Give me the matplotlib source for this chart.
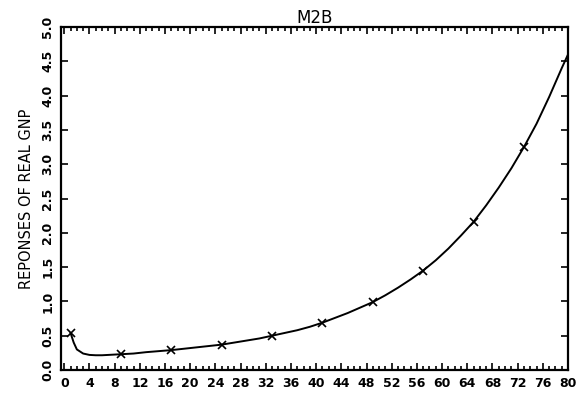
import matplotlib
matplotlib.use('Agg')
import matplotlib.pyplot as plt
from matplotlib.ticker import MultipleLocator

# Curve of the responses.
periodos = [1, 1.5, 2, 3, 4, 5, 6, 7, 9, 11, 13, 15, 17, 19, 21, 23, 25, 27,
            29, 31, 33, 35, 37, 39, 41, 43, 45, 47, 49, 51, 53, 55, 57, 59,
            61, 63, 65, 67, 69, 71, 73, 75, 77, 79, 80]
respostas = [0.54, 0.40, 0.30, 0.24, 0.22, 0.215, 0.215, 0.22, 0.23, 0.24,
             0.26, 0.275, 0.29, 0.31, 0.33, 0.35, 0.37, 0.40, 0.43, 0.46,
             0.50, 0.54, 0.58, 0.63, 0.69, 0.76, 0.83, 0.91, 0.99, 1.09,
             1.20, 1.32, 1.45, 1.60, 1.77, 1.96, 2.16, 2.40, 2.66, 2.94,
             3.25, 3.59, 3.98, 4.40, 4.60]

# Points marked with an x.
periodos_x = [1, 9, 17, 25, 33, 41, 49, 57, 65, 73]
respostas_x = [0.54, 0.23, 0.29, 0.37, 0.50, 0.69, 0.99, 1.45, 2.16, 3.25]

fig = plt.figure(figsize=(5.82, 3.97), dpi=100)
ax = fig.add_axes([0.105, 0.068, 0.871, 0.864])

ax.plot(periodos, respostas, c='black', lw=1.4)
ax.plot(periodos_x, respostas_x, ls='none', marker='x', c='black',
        markersize=6, markeredgewidth=1.2)

ax.set_xlim(-0.5, 80)
ax.set_ylim(0, 5)

ax.xaxis.set_major_locator(MultipleLocator(4))
ax.xaxis.set_minor_locator(MultipleLocator(1))
ax.yaxis.set_major_locator(MultipleLocator(0.5))

ax.tick_params(axis='both', which='both', direction='in',
               top=True, right=True, width=1.2)
ax.tick_params(axis='both', which='major', length=5, labelsize=9)
ax.tick_params(axis='both', which='minor', length=3)
ax.tick_params(axis='x', pad=5)
ax.tick_params(axis='y', pad=5)

for rotulo in ax.get_xticklabels() + ax.get_yticklabels():
    rotulo.set_fontweight('bold')
for rotulo in ax.get_yticklabels():
    rotulo.set_rotation(90)
    rotulo.set_va('center')

for lado in ax.spines.values():
    lado.set_linewidth(1.6)

ax.set_title('M2B', fontsize=12, pad=2)
ax.set_ylabel('REPONSES OF REAL GNP', fontsize=10.5, labelpad=5)

plt.savefig('out.png', dpi=100)
